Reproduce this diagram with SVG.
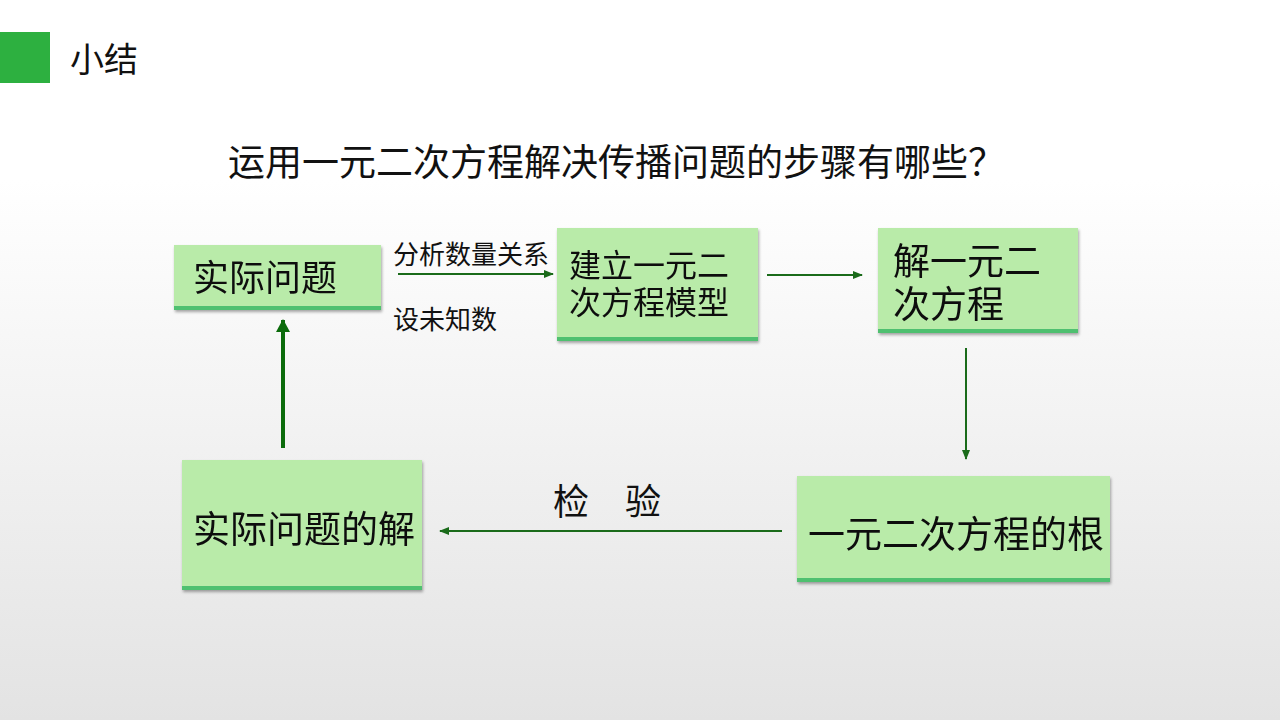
<svg xmlns="http://www.w3.org/2000/svg" width="1280" height="720" viewBox="0 0 1280 720">
<defs>
<linearGradient id="bg" x1="0" y1="0" x2="0" y2="1">
<stop offset="0" stop-color="#ffffff"/>
<stop offset="0.25" stop-color="#ffffff"/>
<stop offset="1" stop-color="#e3e3e3"/>
</linearGradient>
<filter id="sh" x="-5%" y="-5%" width="110%" height="120%">
<feGaussianBlur in="SourceAlpha" stdDeviation="1.5"/>
<feOffset dx="1" dy="2"/>
<feComponentTransfer><feFuncA type="linear" slope="0.35"/></feComponentTransfer>
<feMerge><feMergeNode/><feMergeNode in="SourceGraphic"/></feMerge>
</filter>
<marker id="ah" markerWidth="10" markerHeight="8" refX="9" refY="4" orient="auto" markerUnits="userSpaceOnUse">
<path d="M0,0 L10,4 L0,8 Z" fill="#1a6b1a"/>
</marker>
<marker id="ahb" markerWidth="14" markerHeight="14" refX="12" refY="7" orient="auto" markerUnits="userSpaceOnUse">
<path d="M0,0 L13,7 L0,14 Z" fill="#0b6b0b"/>
</marker>
</defs>
<style>
.t{font-family:"Liberation Sans","Noto Sans CJK SC",sans-serif;fill:#111}
.box{fill:#b9eba9}
.edge{fill:#4fc070}
.c{stroke:#1a6b1a;stroke-width:2;fill:none}
</style>
<rect width="1280" height="720" fill="url(#bg)"/>
<rect x="0" y="32" width="50" height="51" fill="#2db040"/>
<text class="t" x="70" y="72" font-size="34" fill="#222">小结</text>
<text class="t" x="228" y="176" font-size="37">运用一元二次方程解决传播问题的步骤有哪些？</text>

<g id="connectors">
<line class="c" x1="398" y1="274" x2="553" y2="274" marker-end="url(#ah)"/>
<line class="c" x1="767" y1="275" x2="862" y2="275" marker-end="url(#ah)"/>
<line class="c" x1="966" y1="348" x2="966" y2="459" marker-end="url(#ah)"/>
<line class="c" x1="782" y1="531" x2="440" y2="531" marker-end="url(#ah)"/>
<line x1="283" y1="448" x2="283" y2="320" stroke="#0b6b0b" stroke-width="4" marker-end="url(#ahb)"/>
<text class="t" x="393" y="264" font-size="26">分析数量关系</text>
<text class="t" x="393" y="329" font-size="26">设未知数</text>
<text class="t" x="553" y="515" font-size="36">检　验</text>
</g>

<g id="n1" filter="url(#sh)">
<rect class="box" x="174" y="245" width="207" height="65"/>
<rect class="edge" x="174" y="306" width="207" height="4"/>
<text class="t" x="193" y="291" font-size="36">实际问题</text>
</g>
<g id="n2" filter="url(#sh)">
<rect class="box" x="557" y="228" width="201" height="113"/>
<rect class="edge" x="557" y="337" width="201" height="4"/>
<text class="t" x="569" y="277" font-size="32">建立一元二</text>
<text class="t" x="569" y="314" font-size="32">次方程模型</text>
</g>
<g id="n3" filter="url(#sh)">
<rect class="box" x="878" y="228" width="200" height="105"/>
<rect class="edge" x="878" y="329" width="200" height="4"/>
<text class="t" x="893" y="275" font-size="37">解一元二</text>
<text class="t" x="893" y="318" font-size="37">次方程</text>
</g>
<g id="n4" filter="url(#sh)">
<rect class="box" x="182" y="460" width="240" height="130"/>
<rect class="edge" x="182" y="586" width="240" height="4"/>
<text class="t" x="193" y="543" font-size="37">实际问题的解</text>
</g>
<g id="n5" filter="url(#sh)">
<rect class="box" x="797" y="476" width="313" height="106"/>
<rect class="edge" x="797" y="578" width="313" height="4"/>
<text class="t" x="808" y="548" font-size="37">一元二次方程的根</text>
</g>
</svg>
